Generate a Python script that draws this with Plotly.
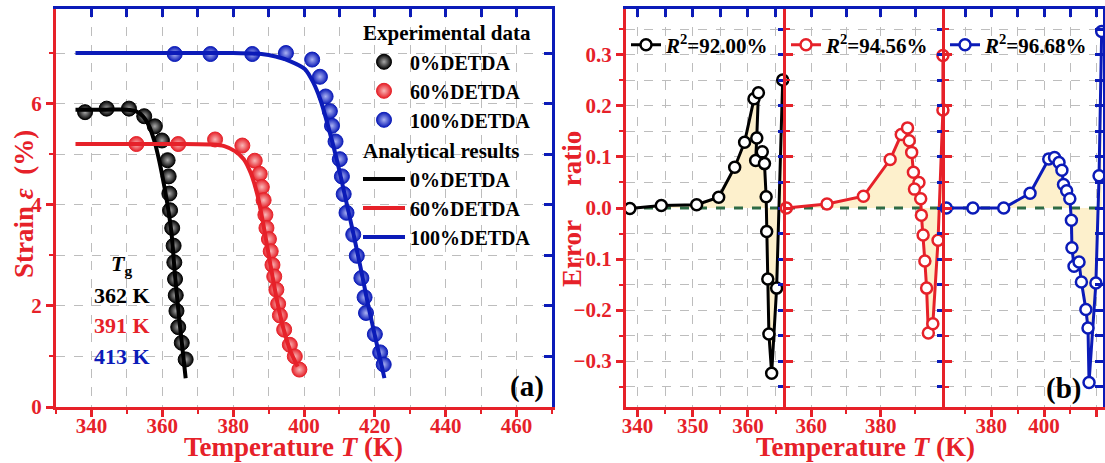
import plotly.graph_objects as go

W, H = 1105, 463
RED = '#e62129'
BLUE = '#0b1bb8'
BLACK = '#000000'
FILL = 'rgb(253,240,204)'
GRID = '#bdbdbd'
ZGREEN = '#2e6b45'
FONT = 'Liberation Serif, Times New Roman, serif'

# ---------------- panel (a): experimental strain data ----------------
T_exp_0 = [338.2, 344.3, 350.6, 354.9, 357.9, 359.9, 361.5, 361.8, 362.0, 362.2,
           362.8, 363.2, 363.4, 363.6, 363.8, 364.0, 364.5, 365.5, 366.6]
S_exp_0 = [5.83, 5.90, 5.90, 5.75, 5.55, 5.27, 4.88, 4.56, 4.22, 3.89,
           3.54, 3.19, 2.86, 2.53, 2.21, 1.90, 1.58, 1.27, 0.94]

T_exp_60 = [352.7, 364.5, 374.9, 382.6, 386.1, 387.5, 388.1, 388.6, 389.1, 389.4, 390.1,
            390.6, 391.1, 391.6, 392.2, 392.7, 393.2, 394.4, 396.0, 397.4, 398.7]
S_exp_60 = [5.20, 5.20, 5.29, 5.17, 4.87, 4.61, 4.35, 4.09, 3.80, 3.54, 3.32,
            3.08, 2.81, 2.58, 2.32, 2.04, 1.81, 1.53, 1.23, 1.00, 0.74]

T_exp_100 = [363.5, 373.6, 385.4, 394.9, 402.3, 404.5, 406.1, 407.3, 407.9, 408.9, 410.1,
             410.7, 411.2, 412.0, 413.9, 414.9, 416.2, 417.1, 417.5, 420.0, 421.5, 422.5]
S_exp_100 = [6.98, 6.98, 6.98, 7.00, 6.87, 6.53, 6.14, 5.85, 5.56, 5.25, 4.90,
             4.56, 4.21, 3.84, 3.41, 2.99, 2.55, 2.17, 1.86, 1.44, 1.08, 0.84]

# ---------------- panel (a): analytical curves ----------------
T_ana_0 = [335.5, 344, 350, 352.5, 354.5, 356.3, 357.8, 359.2, 360.6, 361.7, 362.6, 363.6, 364.7, 365.7, 366.6]
S_ana_0 = [5.88, 5.88, 5.88, 5.85, 5.75, 5.55, 5.25, 4.85, 4.35, 3.90, 3.44, 2.60, 1.80, 1.15, 0.57]

T_ana_60 = [335.5, 350, 365, 374, 377.5, 380.5, 383, 385, 387, 388.8, 390.6, 392.4, 394.2, 396.2, 398.2]
S_ana_60 = [5.20, 5.20, 5.20, 5.19, 5.16, 5.06, 4.90, 4.62, 4.15, 3.50, 2.78, 2.10, 1.55, 1.10, 0.80]

T_ana_100 = [335.5, 360, 380, 388, 392, 396, 400.3, 402.6, 404.6, 407.2, 409.7, 411.8, 413.9, 415.9, 417.8, 420.2, 422.7]
S_ana_100 = [7.00, 7.00, 7.00, 6.98, 6.93, 6.84, 6.68, 6.42, 6.08, 5.45, 4.76, 4.10, 3.44, 2.78, 2.12, 1.35, 0.57]

series_names = ['0%DETDA', '60%DETDA', '100%DETDA']
tg_labels = ['362 K', '391 K', '413 K']

# ---------------- panel (b): error ratio ----------------
T_err_0 = [338.6, 344.3, 350.7, 354.7, 357.6, 359.4, 361.1, 361.9, 361.6, 361.4, 362.6, 363.0,
           363.3, 363.4, 363.6, 363.8, 364.3, 365.2, 366.3]
E_err_0 = [-0.001, 0.005, 0.0065, 0.021, 0.080, 0.129, 0.214, 0.226, 0.137, 0.093, 0.110, 0.087,
           0.022, -0.046, -0.139, -0.247, -0.324, -0.157, 0.251]

T_err_60 = [352.8, 364.5, 375.0, 382.7, 385.9, 387.7, 388.2, 388.9, 389.4, 391.0, 389.7, 391.5,
            391.7, 392.2, 392.7, 393.2, 393.7, 395.0, 396.5, 397.9, 397.9]
E_err_60 = [0.0, 0.008, 0.023, 0.095, 0.144, 0.157, 0.132, 0.109, 0.070, 0.050, 0.037, 0.018,
            -0.014, -0.053, -0.104, -0.157, -0.245, -0.227, -0.063, 0.192, 0.299]

T_err_100 = [362.9, 373.0, 384.7, 394.7, 401.8, 404.0, 405.7, 406.8, 407.4, 408.6, 409.8, 410.4,
             410.6, 411.4, 413.3, 414.2, 415.9, 416.7, 417.1, 419.7, 420.9, 421.9]
E_err_100 = [0.0, 0.0, 0.0, 0.029, 0.096, 0.099, 0.089, 0.074, 0.046, 0.034, 0.018, -0.024,
             -0.078, -0.114, -0.106, -0.145, -0.199, -0.235, -0.342, -0.147, 0.063, 0.346]

r2_labels = ['<i>R</i><sup>2</sup>=92.00%', '<i>R</i><sup>2</sup>=94.56%', '<i>R</i><sup>2</sup>=96.68%']

# ---------------- layout geometry ----------------
def px(x):
    return x / W

def py(y):
    return 1 - y / H

Y_DOM = [py(407), py(9)]
A_DOM = [px(56), px(552)]
BL_DOM = [px(626), px(786)]
BM_DOM = [px(786), px(945)]
BR_DOM = [px(945), px(1103)]

XR_A = [330, 470]
YR_A = [0, 7.87]
XR_BL = [337.9, 366.9]
XR_BM = [352.7, 398.5]
XR_BR = [362.4, 422.4]
YR_B = [-0.39, 0.39]

colors = [BLACK, RED, BLUE]
highlights = ['#a8a8a8', '#f9b8b8', '#aab2f2']
tick_font = dict(family=FONT, size=21, color=RED, weight='bold')

fig = go.Figure()

# --- panel (a) experimental spheres ---
for T, S, c, hl, n in zip([T_exp_0, T_exp_60, T_exp_100], [S_exp_0, S_exp_60, S_exp_100],
                          colors, highlights, series_names):
    fig.add_trace(go.Scatter(
        x=T, y=S, mode='markers', name=n, xaxis='x', yaxis='y',
        legendgroup='exp',
        legendgrouptitle=dict(text='Experimental data',
                              font=dict(family=FONT, size=21, color='black', weight='bold')),
        marker=dict(size=15, color=c, line=dict(color=c, width=1),
                    gradient=dict(type='radial', color=hl)),
        cliponaxis=False))

# --- panel (a) analytical lines ---
for T, S, c, n in zip([T_ana_0, T_ana_60, T_ana_100], [S_ana_0, S_ana_60, S_ana_100], colors, series_names):
    fig.add_trace(go.Scatter(
        x=T, y=S, mode='lines', name=n, xaxis='x', yaxis='y',
        legendgroup='ana',
        legendgrouptitle=dict(text='Analytical results',
                              font=dict(family=FONT, size=21, color='black', weight='bold')),
        line=dict(color=c, width=4, shape='spline', smoothing=0.6)))

# --- panel (b) ---
b_axes = [('x3', 'y3', XR_BL), ('x4', 'y4', XR_BM), ('x5', 'y5', XR_BR)]
b_data = [(T_err_0, E_err_0), (T_err_60, E_err_60), (T_err_100, E_err_100)]
b_legends = ['legend2', 'legend3', 'legend4']
for (xa, ya, xr), (T, E), c, lab, lg in zip(b_axes, b_data, colors, r2_labels, b_legends):
    fig.add_trace(go.Scatter(x=T, y=E, mode='none', fill='tozeroy', fillcolor=FILL,
                             xaxis=xa, yaxis=ya, showlegend=False, hoverinfo='skip'))
    fig.add_trace(go.Scatter(x=xr, y=[0, 0], mode='lines', xaxis=xa, yaxis=ya,
                             line=dict(color=ZGREEN, width=3, dash='dash'),
                             showlegend=False, hoverinfo='skip'))
    fig.add_trace(go.Scatter(
        x=T, y=E, mode='lines+markers', name=lab, xaxis=xa, yaxis=ya, legend=lg,
        line=dict(color=c, width=3),
        marker=dict(symbol='circle', size=11, color='white', line=dict(color=c, width=2.5)),
        cliponaxis=False))

# dummy traces to create the mirrored (top/right) axes
for xa, ya in [('x2', 'y'), ('x', 'y2'), ('x6', 'y3'), ('x3', 'y6'),
               ('x7', 'y4'), ('x4', 'y7'), ('x8', 'y5'), ('x5', 'y8')]:
    fig.add_trace(go.Scatter(x=[None], y=[None], xaxis=xa, yaxis=ya, showlegend=False,
                             hoverinfo='skip', mode='markers'))


def base_axis(rng, dtick, tick0, minor_dtick, color=RED, labels=True, ticks='outside', grid=True, **kw):
    d = dict(range=rng, autorange=False, automargin=False, showline=True, linecolor=color, linewidth=3,
             ticks=ticks, ticklen=7, tickwidth=2.5, tickcolor=color,
             dtick=dtick, tick0=tick0, showticklabels=labels, tickfont=tick_font,
             showgrid=grid, gridcolor=GRID, griddash='dash', gridwidth=1,
             zeroline=False,
             minor=dict(dtick=minor_dtick, ticks=ticks, ticklen=4, tickwidth=2, tickcolor=color,
                        showgrid=grid, gridcolor=GRID, griddash='dash', gridwidth=1))
    d.update(kw)
    return d


def mirror_axis(rng, dtick, tick0, line=True, **kw):
    d = dict(range=rng, autorange=False, automargin=False, showline=line, linecolor=BLUE, linewidth=3,
             ticks='inside', ticklen=8, tickwidth=2.5, tickcolor=BLUE,
             dtick=dtick, tick0=tick0, showticklabels=False, showgrid=False, zeroline=False)
    d.update(kw)
    return d


XSO = -9  # pull the bottom tick labels a little closer to the axis

layout = dict(
    width=W, height=H, margin=dict(l=0, r=0, t=0, b=0, autoexpand=False),
    paper_bgcolor='white', plot_bgcolor='white',
    font=dict(family=FONT, color='black'),
    xaxis=base_axis(XR_A, 20, 340, 10, domain=A_DOM, anchor='y', ticklabelstandoff=XSO),
    yaxis=base_axis(YR_A, 2, 0, 1, domain=Y_DOM, anchor='x'),
    xaxis2=mirror_axis(XR_A, 10, 340, overlaying='x', side='top', anchor='y'),
    yaxis2=mirror_axis(YR_A, 1, 0, overlaying='y', side='right', anchor='x'),
    xaxis3=base_axis(XR_BL, 10, 340, 5, domain=BL_DOM, anchor='y3', ticklabelstandoff=XSO),
    yaxis3=base_axis(YR_B, 0.1, 0, 0.05, domain=Y_DOM, anchor='x3', tickformat='.1f'),
    xaxis4=base_axis(XR_BM, 20, 360, 10, domain=BM_DOM, anchor='y4', ticklabelstandoff=XSO),
    yaxis4=base_axis(YR_B, 0.1, 0, 0.05, domain=Y_DOM, anchor='x4', labels=False, ticks='inside'),
    xaxis5=base_axis(XR_BR, 20, 380, 10, domain=BR_DOM, anchor='y5', ticklabelstandoff=XSO),
    yaxis5=base_axis(YR_B, 0.1, 0, 0.05, domain=Y_DOM, anchor='x5', labels=False, ticks='inside'),
    xaxis6=mirror_axis(XR_BL, 5, 340, overlaying='x3', side='top', anchor='y3'),
    xaxis7=mirror_axis(XR_BM, 10, 360, overlaying='x4', side='top', anchor='y4'),
    xaxis8=mirror_axis(XR_BR, 10, 370, overlaying='x5', side='top', anchor='y5'),
    yaxis6=mirror_axis(YR_B, 0.05, 0, line=False, overlaying='y3', side='right', anchor='x3'),
    yaxis7=mirror_axis(YR_B, 0.05, 0, line=False, overlaying='y4', side='right', anchor='x4'),
    yaxis8=mirror_axis(YR_B, 0.05, 0, overlaying='y5', side='right', anchor='x5'),
    legend=dict(x=px(358), y=py(12), xanchor='left', yanchor='top',
                bgcolor='rgba(0,0,0,0)', borderwidth=0, tracegroupgap=0,
                traceorder='grouped', itemwidth=42,
                font=dict(family=FONT, size=20, color='black', weight='bold')),
)
for lg, x0 in zip(b_legends, [626, 786, 945]):
    layout[lg] = dict(x=px(x0), y=py(45), xanchor='left', yanchor='middle',
                      bgcolor='rgba(0,0,0,0)', borderwidth=0, itemwidth=30,
                      font=dict(family=FONT, size=21, color='black', weight='bold'))

ann = []
def add_text(text, x, y, size=21, color='black', angle=0, yanchor='middle'):
    ann.append(dict(text=text, x=px(x), y=py(y), xref='paper', yref='paper',
                    showarrow=False, textangle=angle, xanchor='center', yanchor=yanchor,
                    font=dict(family=FONT, size=size, color=color, weight='bold')))

add_text('<i>T</i><sub>g</sub>', 121, 265, size=22)
for lab, c, yy in zip(tg_labels, colors, [295, 325, 356]):
    add_text(lab, 122, yy, size=22, color=c)
add_text('(a)', 527, 386, size=29)
add_text('(b)', 1063, 388, size=29)
add_text('Temperature <i>T</i> (K)', 293, 447, size=27, color=RED)
add_text('Temperature <i>T</i> (K)', 865, 447, size=27, color=RED)
add_text('Strain <i>ε</i>\u00a0 (%)', 24, 204, size=27, color=RED, angle=-90)
add_text('Error\u00a0\u00a0\u00a0\u00a0\u00a0ratio', 572, 209, size=27, color=RED, angle=-90)
layout['annotations'] = ann

fig.update_layout(**layout)
fig.write_html('out.html')
